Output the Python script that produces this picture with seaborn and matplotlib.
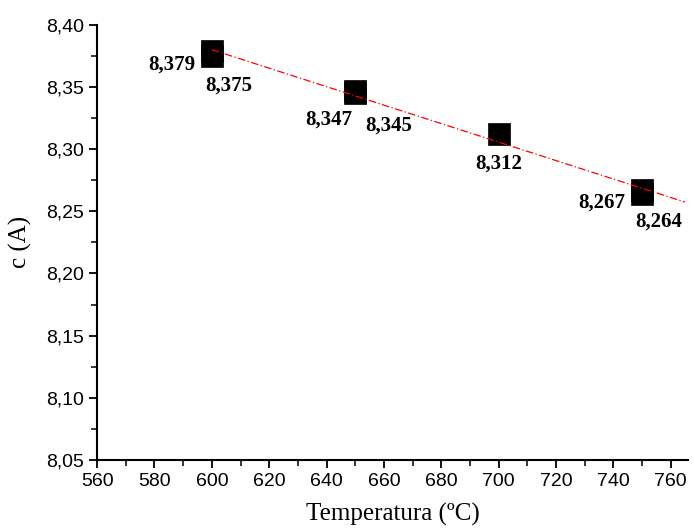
import numpy as np
import pandas as pd
import seaborn as sns
import matplotlib.pyplot as plt
from matplotlib.ticker import MultipleLocator, FuncFormatter

temperature = [600, 600, 650, 650, 700, 750, 750]
c_param = [8.379, 8.375, 8.347, 8.345, 8.312, 8.267, 8.264]
labels = ["8,379", "8,375", "8,347", "8,345", "8,312", "8,267", "8,264"]

data = pd.DataFrame({"Temperatura": temperature, "c": c_param})

sns.set_style("ticks")
plt.rcParams['font.family'] = ['Liberation Sans', 'DejaVu Sans']
plt.rcParams['text.color'] = 'black'
plt.rcParams['axes.labelcolor'] = 'black'

fig = plt.figure(figsize=(6.94, 5.31), dpi=100)
ax = fig.add_axes([0.140, 0.134, 0.851, 0.819])

sns.scatterplot(x="Temperatura", y="c", data=data, marker="s", s=240,
                color="black", edgecolor="black", linewidth=0.5, ax=ax, zorder=2)

# linear fit drawn over the data, extended to the right edge
slope, intercept = np.polyfit(temperature, c_param, 1)
xfit = np.array([min(temperature), 765])
ax.plot(xfit, slope * xfit + intercept, color="red", lw=0.9,
        ls=(0, (6, 2, 1, 2)), zorder=3)

offsets = [(-29, -10), (12, -21), (-19, -21), (24, -23), (0, -21), (-29, -9), (12, -20)]
for xv, yv, lab, off in zip(temperature, c_param, labels, offsets):
    ax.annotate(lab, (xv, yv), xytext=off, textcoords="offset points",
                ha="center", va="center", fontsize=15, fontweight="bold",
                family="Liberation Serif", color="black")

ax.set_xlim(560, 766)
ax.set_ylim(8.05, 8.40)
ax.xaxis.set_major_locator(MultipleLocator(20))
ax.xaxis.set_minor_locator(MultipleLocator(10))
ax.yaxis.set_major_locator(MultipleLocator(0.05))
ax.yaxis.set_minor_locator(MultipleLocator(0.025))
ax.yaxis.set_major_formatter(FuncFormatter(lambda v, p: f"{v:.2f}".replace(".", ",")))

ax.tick_params(which="major", direction="out", length=6, width=1.3, labelsize=14, colors="black")
ax.tick_params(which="minor", direction="out", length=4, width=1.3)
for s in ["left", "bottom"]:
    ax.spines[s].set_linewidth(1.5)
    ax.spines[s].set_color("black")
sns.despine(ax=ax)

ax.set_xlabel("Temperatura (ºC)", fontsize=18, family="Liberation Serif", labelpad=9)
ax.set_ylabel("c (A)", fontsize=18, family="Liberation Serif", labelpad=10)

fig.savefig("out.png", dpi=100)
